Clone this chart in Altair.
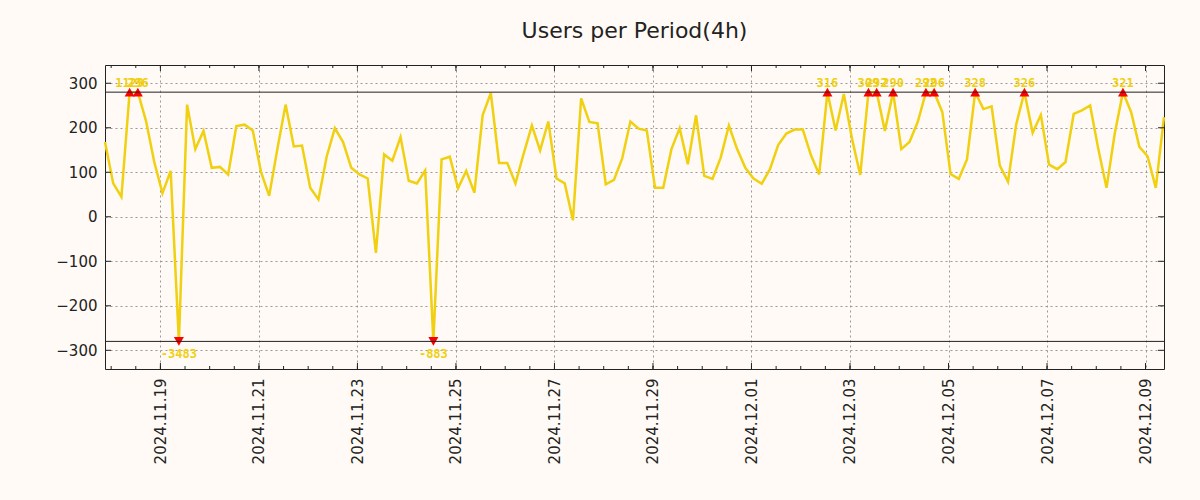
import altair as alt
import pandas as pd

# ---------------- data ----------------
TITLE = "Users per Period(4h)"
START = "2024-11-17 21:00"      # first 4-hour period
PERIOD = "4h"
users = [
    168, 75, 45, 1129, 296, 215, 123, 53, 103, -3483,
    252, 152, 193, 110, 112, 95, 204, 207, 194, 101,
    47, 153, 252, 158, 160, 65, 39, 135, 199, 168,
    110, 95, 86, -81, 140, 126, 179, 81, 75, 104,
    -883, 129, 135, 64, 103, 54, 228, 278, 121, 121,
    75, 142, 205, 149, 214, 86, 75, -8, 266, 213,
    210, 73, 83, 131, 214, 198, 194, 65, 65, 152,
    199, 118, 228, 92, 85, 133, 205, 152, 110, 86,
    74, 107, 161, 187, 196, 196, 138, 95, 316, 194,
    276, 175, 94, 309, 292, 193, 290, 152, 168, 213,
    292, 296, 235, 96, 85, 129, 328, 242, 248, 115,
    79, 208, 326, 189, 229, 117, 107, 123, 231, 239,
    250, 152, 65, 187, 321, 235, 157, 136, 65, 224,
]
CLIP = 280
y_ticks = [-300, -200, -100, 0, 100, 200, 300]
x_major_ticks = ["2024-11-19", "2024-11-21", "2024-11-23", "2024-11-25",
                 "2024-11-27", "2024-11-29", "2024-12-01", "2024-12-03",
                 "2024-12-05", "2024-12-07", "2024-12-09"]
MINOR_FIRST, MINOR_LAST, MINOR_STEP = "2024-11-18 00:00", "2024-12-09 00:00", "12h"
Y_DOMAIN = [-342, 341]

# ---------------- styling ----------------
W, H = 1059, 304
BG = "#FFFAF5"
YEL = "#F0D010"
INK = "#222222"
FONT = "DejaVu Sans"
MAJOR_LEN, MINOR_LEN = 6, 3

FMT = "%Y-%m-%dT%H:%M:%S"
times = pd.date_range(START, periods=len(users), freq=PERIOD)
df = pd.DataFrame({"t": times.strftime(FMT), "v": users})
df["vc"] = df["v"].clip(-CLIP, CLIP)
df["dir"] = ["up" if v > CLIP else ("down" if v < -CLIP else "none") for v in df["v"]]
df["lbl"] = df["v"].astype(str)

major_df = pd.DataFrame({"t": pd.to_datetime(x_major_ticks).strftime(FMT)})
minor_df = pd.DataFrame({"t": pd.date_range(MINOR_FIRST, MINOR_LAST, freq=MINOR_STEP).strftime(FMT)})
yt_df = pd.DataFrame({"vc": y_ticks})
clip_df = pd.DataFrame({"vc": [CLIP, -CLIP]})

major_dt = []
for s in x_major_ticks:
    yy, mm, dd = (int(p) for p in s.split("-"))
    major_dt.append(alt.DateTime(year=yy, month=mm, date=dd))

yscale = alt.Scale(domain=Y_DOMAIN, nice=False, zero=False)
xscale = alt.Scale(nice=False)

main_x = alt.Axis(orient="bottom", values=major_dt, format="%Y.%m.%d", labelAngle=270,
                  labelFontSize=15, labelFont=FONT, labelColor=INK, labelPadding=9,
                  labelFlush=False, labelOverlap=False, ticks=False, domain=False,
                  grid=True, gridColor="#999999", gridDash=[2, 3], gridWidth=1,
                  gridOpacity=1, title=None)
main_y = alt.Axis(orient="left", values=y_ticks, labelFontSize=15, labelFont=FONT,
                  labelColor=INK, labelPadding=8, ticks=False, domain=False,
                  grid=True, gridColor="#999999", gridDash=[2, 3], gridWidth=1,
                  gridOpacity=1, title=None)

XA = alt.X("t:T", scale=xscale, axis=main_x)
YA = alt.Y("vc:Q", scale=yscale, axis=main_y)

base = alt.Chart(df)

line = base.mark_line(color=YEL, strokeWidth=2.5).encode(x=XA, y=YA)

# inward ticks (all four sides)
tick_style = dict(color=INK, strokeWidth=1)
xt_major_bot = alt.Chart(major_df).mark_rule(**tick_style).encode(
    x=XA, y=alt.value(H - MAJOR_LEN), y2=alt.value(H))
xt_major_top = alt.Chart(major_df).mark_rule(**tick_style).encode(
    x=XA, y=alt.value(0), y2=alt.value(MAJOR_LEN))
xt_minor_bot = alt.Chart(minor_df).mark_rule(**tick_style).encode(
    x=XA, y=alt.value(H - MINOR_LEN), y2=alt.value(H))
xt_minor_top = alt.Chart(minor_df).mark_rule(**tick_style).encode(
    x=XA, y=alt.value(0), y2=alt.value(MINOR_LEN))
yt_left = alt.Chart(yt_df).mark_rule(**tick_style).encode(
    y=YA, x=alt.value(0), x2=alt.value(MAJOR_LEN))
yt_right = alt.Chart(yt_df).mark_rule(**tick_style).encode(
    y=YA, x=alt.value(W - MAJOR_LEN), x2=alt.value(W))

markers = base.transform_filter(f"abs(datum.v) > {CLIP}").mark_point(
    filled=True, color="#FF0000", size=100, opacity=1, strokeWidth=0
).encode(
    x=XA, y=YA,
    shape=alt.Shape("dir:N", scale=alt.Scale(domain=["up", "down"],
                                             range=["triangle-up", "triangle-down"]),
                    legend=None),
)

clip_lines = alt.Chart(clip_df).mark_rule(color=INK, strokeWidth=1).encode(y=YA)

text_style = dict(baseline="alphabetic", align="center", font="DejaVu Sans Mono",
                  fontSize=12, fontWeight="bold", color=YEL)
labels_up = base.transform_filter(f"datum.v > {CLIP}").mark_text(dy=-5, **text_style).encode(
    x=XA, y=YA, text="lbl:N")
labels_down = base.transform_filter(f"datum.v < {-CLIP}").mark_text(dy=17, **text_style).encode(
    x=XA, y=YA, text="lbl:N")

chart = alt.layer(
    line, xt_major_bot, xt_major_top, xt_minor_bot, xt_minor_top, yt_left, yt_right,
    markers, clip_lines, labels_up, labels_down
).properties(
    width=W, height=H,
    title=alt.TitleParams(TITLE, fontSize=22, font=FONT, fontWeight="normal",
                          color=INK, offset=22, anchor="middle"),
    autosize=alt.AutoSizeParams(type="none"),
    padding={"left": 105, "top": 65, "right": 36, "bottom": 131},
    background=BG,
).configure_view(
    stroke=INK, strokeWidth=1, fill=BG
)

chart.save("out.html", embed_options={"renderer": "svg", "actions": False})
